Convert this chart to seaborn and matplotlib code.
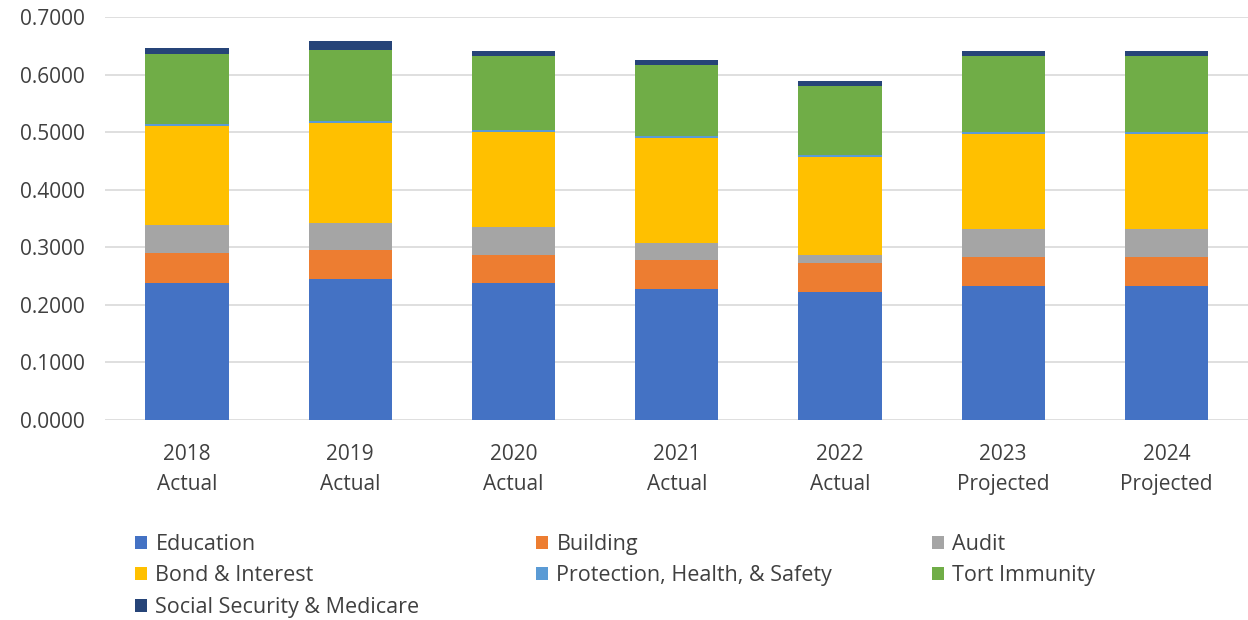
import matplotlib
matplotlib.use("Agg")
import matplotlib.pyplot as plt
import seaborn as sns
import numpy as np
from matplotlib.patches import Patch

years = ["2018\nActual", "2019\nActual", "2020\nActual", "2021\nActual",
         "2022\nActual", "2023\nProjected", "2024\nProjected"]
series_names = ["Education", "Building", "Audit", "Bond & Interest",
                "Protection, Health, & Safety", "Tort Immunity",
                "Social Security & Medicare"]
education = [0.238, 0.245, 0.238, 0.228, 0.223, 0.233, 0.233]
building = [0.052, 0.051, 0.049, 0.050, 0.050, 0.050, 0.050]
audit = [0.049, 0.047, 0.049, 0.030, 0.013, 0.049, 0.049]
bond = [0.172, 0.173, 0.165, 0.182, 0.171, 0.165, 0.165]
protection = [0.003, 0.003, 0.003, 0.003, 0.003, 0.003, 0.003]
tort = [0.122, 0.124, 0.129, 0.124, 0.121, 0.133, 0.133]
social = [0.010, 0.015, 0.009, 0.008, 0.008, 0.008, 0.008]
colors = ["#4472C4", "#ED7D31", "#A5A5A5", "#FFC000", "#5B9BD5", "#70AD47", "#264478"]

sns.set_style("white")
plt.rcParams["font.family"] = ["Open Sans", "DejaVu Sans"]
text_color = "#404040"

fig = plt.figure(figsize=(12.48, 6.2), dpi=100)
ax = fig.add_axes([0.0845, 0.3226, 0.9155, 0.6500])

data = [education, building, audit, bond, protection, tort, social]
cums = np.cumsum(np.array(data), axis=0)
for i in range(len(data) - 1, -1, -1):
    sns.barplot(x=years, y=cums[i], color=colors[i], saturation=1,
                width=0.51, linewidth=0, ax=ax, order=years)

ax.set_ylim(0, 0.7005)
ax.set_xlim(-0.5, 6.5)
ax.set_yticks(np.arange(0, 0.71, 0.1))
ax.set_yticklabels([f"{v:.4f}" for v in np.arange(0, 0.71, 0.1)])
ax.yaxis.grid(True, color="#D9D9D9", linewidth=1.2)
ax.xaxis.grid(False)
ax.set_axisbelow(True)
for s in ax.spines.values():
    s.set_visible(False)
ax.tick_params(axis="y", length=0, pad=15, labelsize=15, labelcolor=text_color)
ax.tick_params(axis="x", length=0, pad=17.5, labelsize=15, labelcolor=text_color)
for t in ax.get_xticklabels():
    t.set_linespacing(1.55)
ax.set_xlabel("")
ax.set_ylabel("")

handles = [Patch(facecolor=c, edgecolor="none") for c in colors]
columns = [([0, 3, 6], 135), ([1, 4], 536), ([2, 5], 932)]
for idxs, xpx in columns:
    fig.legend([handles[i] for i in idxs], [series_names[i] for i in idxs],
               loc="upper left", bbox_to_anchor=(xpx / 1248, 1 - 534 / 620),
               ncol=1, frameon=False, fontsize=15.5, handlelength=0.55,
               handleheight=0.55, handletextpad=0.4, labelspacing=0.48,
               borderpad=0, borderaxespad=0, labelcolor=text_color)

fig.savefig("out.png", dpi=100)
